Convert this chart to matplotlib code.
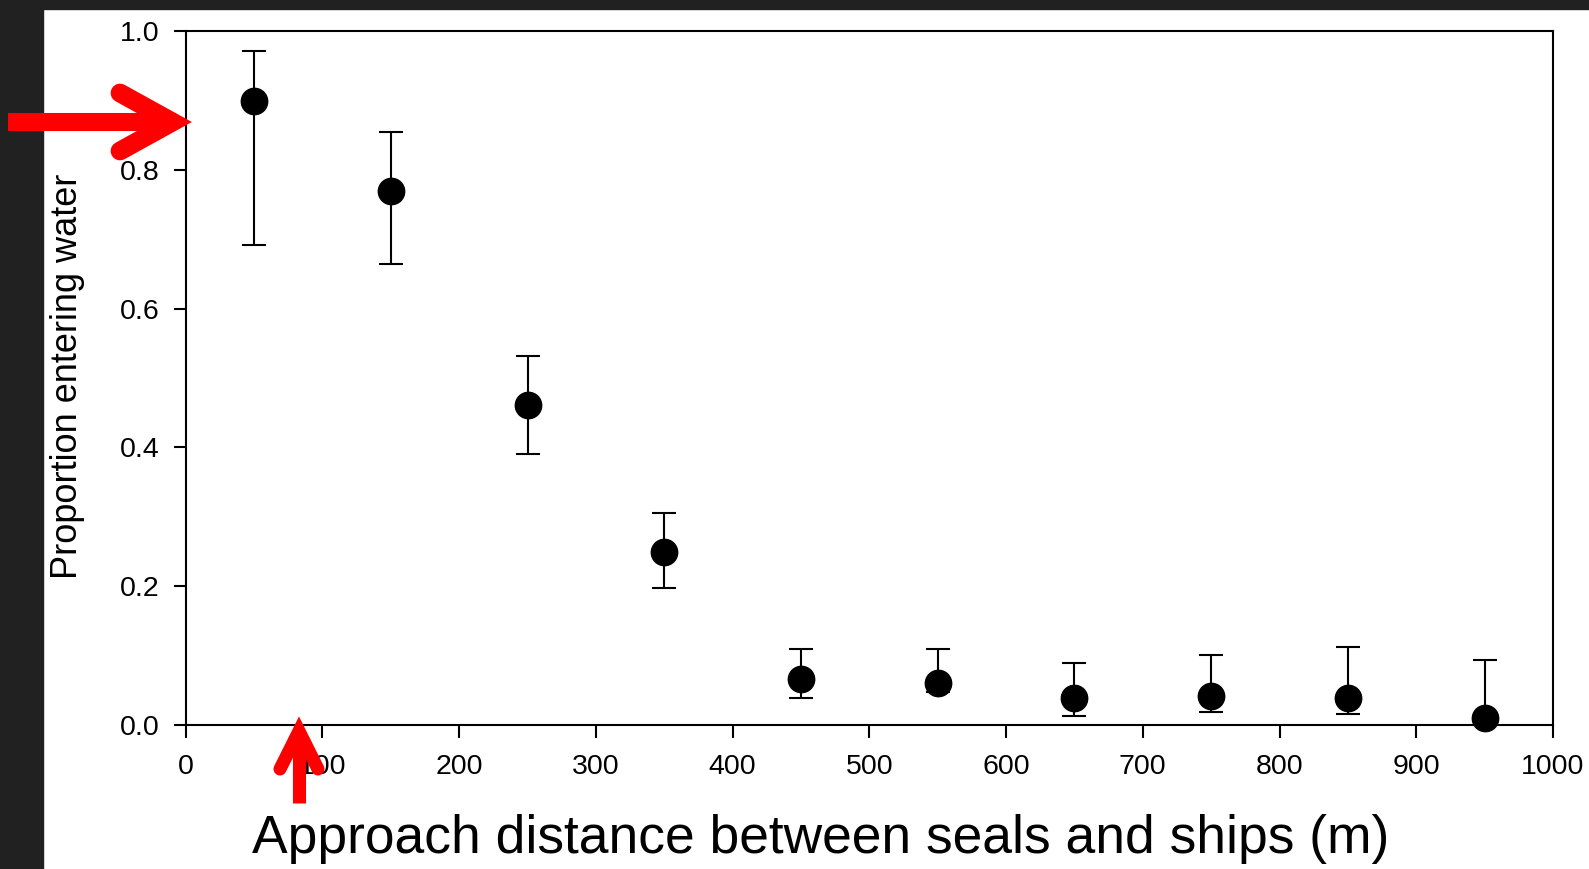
import matplotlib
matplotlib.use("Agg")
import matplotlib.pyplot as plt
from matplotlib.lines import Line2D
from matplotlib.patches import Rectangle
import numpy as np

plt.rcParams['font.family'] = ['Liberation Sans', 'DejaVu Sans']

# Data
distance = [50, 150, 250, 350, 450, 550, 650, 750, 850, 950]
proportion = [0.899, 0.770, 0.461, 0.250, 0.067, 0.060, 0.039, 0.042, 0.039, 0.010]
upper = [0.971, 0.855, 0.531, 0.306, 0.110, 0.110, 0.089, 0.101, 0.113, 0.094]
lower = [0.692, 0.664, 0.390, 0.197, 0.039, 0.048, 0.013, 0.019, 0.016, 0.000]
xticks = [0, 100, 200, 300, 400, 500, 600, 700, 800, 900, 1000]
yticks = [0.0, 0.2, 0.4, 0.6, 0.8, 1.0]

W, H = 1589, 869
fig = plt.figure(figsize=(W / 100, H / 100), dpi=100)
fig.patch.set_facecolor('white')

# dark frame strips
fig.add_artist(Rectangle((0, 0), 43 / W, 1, transform=fig.transFigure, color='#212121', zorder=0))
fig.add_artist(Rectangle((0, 1 - 9 / H), 1, 9 / H, transform=fig.transFigure, color='#212121', zorder=0))

ax = fig.add_axes([185.7 / W, 1 - 725 / H, (1553 - 185.7) / W, (725 - 31) / H])
y = np.array(proportion)
yerr = np.vstack([y - np.array(lower), np.array(upper) - y])
ax.errorbar(distance, proportion, yerr=yerr, fmt='o', color='black', ms=19,
            ecolor='black', elinewidth=1.5, capsize=8.5, capthick=1.5, zorder=3,
            clip_on=False)
ax.set_xlim(0, 1000)
ax.set_ylim(0, 1.0)
ax.set_xticks(xticks)
ax.set_xticklabels([str(t) for t in xticks])
ax.set_yticks(yticks)
ax.set_yticklabels([f"{t:.1f}" for t in yticks])
for s in ax.spines.values():
    s.set_linewidth(1.5)
ax.tick_params(axis='both', direction='out', length=9, width=1.5, labelsize=20.5, colors='black')
ax.tick_params(axis='x', pad=12)
ax.tick_params(axis='y', pad=10)

fig.text(68 / W, 1 - 376 / H, 'Proportion entering water', rotation=90,
         ha='center', va='center', fontsize=26)
fig.text(821 / W, 1 - 853 / H, 'Approach distance between seals and ships (m)',
         ha='center', va='baseline', fontsize=38.4)

red = '#ff0000'

# horizontal arrow
shaft = Line2D([8 / W, 172 / W], [1 - 122 / H, 1 - 122 / H], transform=fig.transFigure,
               color=red, lw=13, solid_capstyle='butt', zorder=5)
fig.add_artist(shaft)
hx = [120, 172.5, 120]
hy = [93, 122, 151]
head = Line2D([v / W for v in hx], [1 - v / H for v in hy], transform=fig.transFigure,
              color=red, lw=13.5, solid_capstyle='round', solid_joinstyle='miter', zorder=5)
fig.add_artist(head)

# vertical arrow
shaft2 = Line2D([299 / W, 299 / W], [1 - 803 / H, 1 - 731 / H], transform=fig.transFigure,
                color=red, lw=9.4, solid_capstyle='butt', zorder=5)
fig.add_artist(shaft2)
vx = [280, 299, 318]
vy = [769, 731, 769]
head2 = Line2D([v / W for v in vx], [1 - v / H for v in vy], transform=fig.transFigure,
               color=red, lw=9.4, solid_capstyle='round', solid_joinstyle='miter', zorder=5)
fig.add_artist(head2)

fig.savefig('out.png', dpi=100)
